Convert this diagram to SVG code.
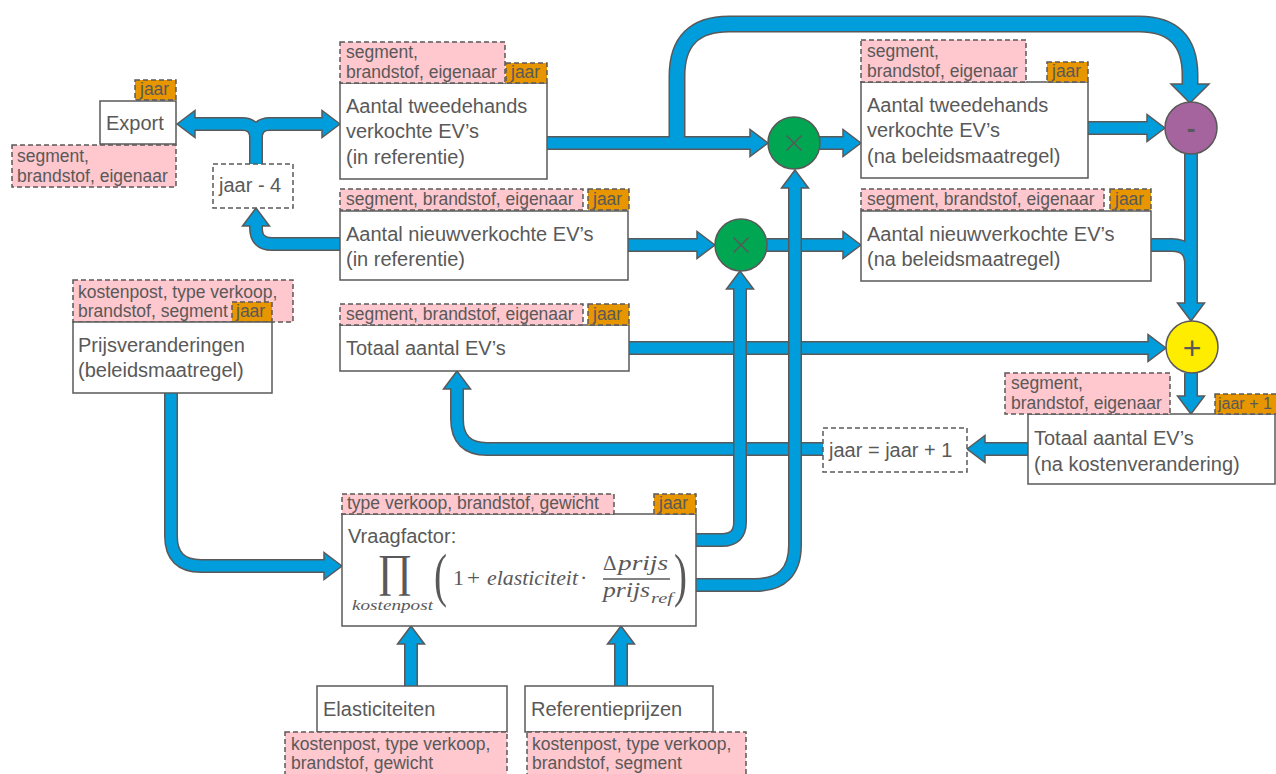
<svg xmlns="http://www.w3.org/2000/svg" xmlns:xlink="http://www.w3.org/1999/xlink" width="1276" height="774" viewBox="0 0 1276 774">
<style>
.box{fill:#fff;stroke:#595959;stroke-width:1.5}
.tag{fill:#FFC7CE;stroke:#595959;stroke-width:1.5;stroke-dasharray:5 3}
.yr{fill:#E89600;stroke:#595959;stroke-width:1.5;stroke-dasharray:5 3}
.dsh{fill:#fff;stroke:#595959;stroke-width:1.5;stroke-dasharray:5 3}
.t{font-family:"Liberation Sans",Arial,sans-serif;font-size:20px;fill:#595959}
.s{font-size:17.5px}
.m{font-family:"Liberation Serif","DejaVu Serif",serif;fill:#595959}
.i{font-style:italic}
.o{fill:none;stroke:#595959;stroke-width:14}
.f{fill:none;stroke:#009DDC;stroke-width:11}
.ow{fill:none;stroke:#595959;stroke-width:17}
.fw{fill:none;stroke:#009DDC;stroke-width:14}
.h{fill:#009DDC;stroke:#595959;stroke-width:1.5}
.x{stroke:#595959;stroke-width:1.5}
</style>
<defs>
<path id="p1" d="M192,124 H242 Q256,124 256,138 V165 M256,138 Q256,124 270,124 H325"/>
<path id="p2" d="M340,244 H272 Q256,244 256,228 V223"/>
<path id="p3a" d="M677,143 V76 Q677,24 729,24 H1139 Q1190,24 1190,75 V88"/>
<path id="p3b" d="M547,143 H753"/>
<path id="p4" d="M819,143 H846"/>
<path id="p5" d="M1088,128 H1149"/>
<path id="p6" d="M1191,154 V306 M1151,245 H1172 Q1191,245 1191,264"/>
<path id="p7" d="M1191,373 V399"/>
<path id="p8" d="M1028,449 H982"/>
<path id="p9" d="M823,449 H487 Q457,449 457,419 V386"/>
<path id="p10" d="M628,245 H700"/>
<path id="p11" d="M767,245 H846"/>
<path id="p12" d="M629,348 H1150"/>
<path id="p13" d="M171,393 V536 Q171,566 201,566 H327"/>
<path id="p14" d="M696,540 H722 Q740,540 740,522 V286"/>
<path id="p15" d="M696,585 H755 Q795,585 795,545 V185"/>
<path id="p16" d="M411,686 V641"/>
<path id="p17" d="M621,686 V641"/>
</defs>

<g id="connectors">
<use xlink:href="#p1" class="o"/><polygon class="h" points="177,124 195,110.5 195,137.5"/><polygon class="h" points="340,124 322,110.5 322,137.5"/><use xlink:href="#p1" class="f"/>
<use xlink:href="#p2" class="o"/><polygon class="h" points="256,208 242.5,226 269.5,226"/><use xlink:href="#p2" class="f"/>
<use xlink:href="#p3a" class="ow"/><use xlink:href="#p3b" class="o"/><polygon class="h" points="1190,103 1171,84 1209,84"/><polygon class="h" points="768,143 750,129.5 750,156.5"/><use xlink:href="#p3a" class="fw"/><use xlink:href="#p3b" class="f"/>
<use xlink:href="#p4" class="o"/><polygon class="h" points="861,143 843,129.5 843,156.5"/><use xlink:href="#p4" class="f"/>
<use xlink:href="#p5" class="o"/><polygon class="h" points="1165,128 1147,114.5 1147,141.5"/><use xlink:href="#p5" class="f"/>
<use xlink:href="#p6" class="o"/><polygon class="h" points="1191,321 1177.5,303 1204.5,303"/><use xlink:href="#p6" class="f"/>
<use xlink:href="#p7" class="o"/><polygon class="h" points="1191,414 1177.5,396 1204.5,396"/><use xlink:href="#p7" class="f"/>
<use xlink:href="#p8" class="o"/><polygon class="h" points="967,449 985,435.5 985,462.5"/><use xlink:href="#p8" class="f"/>
<use xlink:href="#p9" class="o"/><polygon class="h" points="457,371 443.5,389 470.5,389"/><use xlink:href="#p9" class="f"/>
<use xlink:href="#p10" class="o"/><polygon class="h" points="715,245 697,231.5 697,258.5"/><use xlink:href="#p10" class="f"/>
<use xlink:href="#p11" class="o"/><polygon class="h" points="861,245 843,231.5 843,258.5"/><use xlink:href="#p11" class="f"/>
<use xlink:href="#p12" class="o"/><polygon class="h" points="1166,348 1148,334.5 1148,361.5"/><use xlink:href="#p12" class="f"/>
<use xlink:href="#p13" class="o"/><polygon class="h" points="342,566 324,552.5 324,579.5"/><use xlink:href="#p13" class="f"/>
<use xlink:href="#p14" class="o"/><polygon class="h" points="740,271 726.5,289 753.5,289"/><use xlink:href="#p14" class="f"/>
<use xlink:href="#p15" class="o"/><polygon class="h" points="795,170 781.5,188 808.5,188"/><use xlink:href="#p15" class="f"/>
<use xlink:href="#p16" class="o"/><polygon class="h" points="411,626 397.5,644 424.5,644"/><use xlink:href="#p16" class="f"/>
<use xlink:href="#p17" class="o"/><polygon class="h" points="621,626 607.5,644 634.5,644"/><use xlink:href="#p17" class="f"/>
</g>

<g id="export">
<rect class="box" x="100" y="101" width="76" height="43"/>
<text class="t" x="106" y="130">Export</text>
<rect class="yr" x="135" y="80" width="41" height="20"/>
<text class="t s" x="140" y="95">jaar</text>
<rect class="tag" x="12" y="145" width="164" height="42"/>
<text class="t s" x="17" y="162">segment,</text>
<text class="t s" x="17" y="182">brandstof, eigenaar</text>
</g>

<g id="jaar-min-4">
<rect class="dsh" x="213" y="164" width="80" height="44"/>
<text class="t" x="219" y="192">jaar - 4</text>
</g>

<g id="tweedehands-ref">
<rect class="box" x="340" y="83" width="207" height="96"/>
<text class="t" x="346" y="113">Aantal tweedehands</text>
<text class="t" x="346" y="138">verkochte EV’s</text>
<text class="t" x="346" y="164">(in referentie)</text>
<rect class="tag" x="340" y="42" width="165" height="41"/>
<text class="t s" x="346" y="58">segment,</text>
<text class="t s" x="346" y="78">brandstof, eigenaar</text>
<rect class="yr" x="506" y="63" width="41" height="20"/>
<text class="t s" x="511" y="78">jaar</text>
</g>

<g id="nieuw-ref">
<rect class="box" x="340" y="211" width="288" height="69"/>
<text class="t" x="346" y="241">Aantal nieuwverkochte EV’s</text>
<text class="t" x="346" y="266">(in referentie)</text>
<rect class="tag" x="340" y="189" width="243" height="21"/>
<text class="t s" x="346" y="205">segment, brandstof, eigenaar</text>
<rect class="yr" x="588" y="189" width="41" height="21"/>
<text class="t s" x="593" y="205">jaar</text>
</g>

<g id="totaal-ref">
<rect class="box" x="340" y="325" width="289" height="46"/>
<text class="t" x="346" y="355">Totaal aantal EV’s</text>
<rect class="tag" x="340" y="304" width="243" height="21"/>
<text class="t s" x="346" y="320">segment, brandstof, eigenaar</text>
<rect class="yr" x="588" y="304" width="41" height="21"/>
<text class="t s" x="593" y="320">jaar</text>
</g>

<g id="prijsveranderingen">
<rect class="tag" x="73" y="280" width="220" height="42"/>
<text class="t s" x="78" y="298">kostenpost, type verkoop,</text>
<text class="t s" x="78" y="317">brandstof, segment</text>
<rect class="yr" x="232" y="302" width="40" height="20"/>
<text class="t s" x="236" y="317">jaar</text>
<rect class="box" x="73" y="322" width="199" height="71"/>
<text class="t" x="78" y="352">Prijsveranderingen</text>
<text class="t" x="78" y="377">(beleidsmaatregel)</text>
</g>

<g id="vraagfactor">
<rect class="box" x="342" y="514" width="354" height="112"/>
<rect class="tag" x="342" y="494" width="272" height="20"/>
<text class="t s" x="347" y="509">type verkoop, brandstof, gewicht</text>
<rect class="yr" x="654" y="494" width="42" height="20"/>
<text class="t s" x="659" y="509">jaar</text>
<text class="t" x="348" y="543">Vraagfactor:</text>
<text class="m" x="377" y="586" font-size="46" textLength="35" lengthAdjust="spacingAndGlyphs">∏</text>
<text class="m i" x="352" y="610" font-size="14" textLength="81" lengthAdjust="spacingAndGlyphs">kostenpost</text>
<text class="m" x="434" y="595" font-size="60" textLength="13" lengthAdjust="spacingAndGlyphs">(</text>
<text class="m" x="453" y="585" font-size="22">1</text>
<text class="m" x="467" y="585" font-size="22" textLength="13" lengthAdjust="spacingAndGlyphs">+</text>
<text class="m i" x="487" y="585" font-size="22" textLength="91" lengthAdjust="spacingAndGlyphs">elasticiteit</text>
<text class="m" x="580" y="585" font-size="22">·</text>
<text class="m" x="603" y="570" font-size="21">Δ</text>
<text class="m i" x="618" y="570" font-size="22" textLength="50" lengthAdjust="spacingAndGlyphs">prijs</text>
<line x1="603" y1="579" x2="670" y2="579" stroke="#595959" stroke-width="1.3"/>
<text class="m i" x="603" y="597" font-size="22" textLength="47" lengthAdjust="spacingAndGlyphs">prijs</text>
<text class="m i" x="651" y="603" font-size="15" textLength="22" lengthAdjust="spacingAndGlyphs">ref</text>
<text class="m" x="674" y="595" font-size="60" textLength="13" lengthAdjust="spacingAndGlyphs">)</text>
</g>

<g id="elasticiteiten">
<rect class="box" x="317" y="686" width="190" height="46"/>
<text class="t" x="323" y="716">Elasticiteiten</text>
<rect class="tag" x="285" y="732" width="222" height="48"/>
<text class="t s" x="291" y="750">kostenpost, type verkoop,</text>
<text class="t s" x="291" y="769">brandstof, gewicht</text>
</g>

<g id="referentieprijzen">
<rect class="box" x="525" y="686" width="188" height="46"/>
<text class="t" x="531" y="716">Referentieprijzen</text>
<rect class="tag" x="527" y="732" width="219" height="48"/>
<text class="t s" x="532" y="750">kostenpost, type verkoop,</text>
<text class="t s" x="532" y="769">brandstof, segment</text>
</g>

<g id="mult-top">
<ellipse cx="794" cy="143" rx="26" ry="26" fill="#00A651" stroke="#595959" stroke-width="1.5"/>
<line class="x" x1="786.5" y1="135.5" x2="801.5" y2="150.5"/><line class="x" x1="801.5" y1="135.5" x2="786.5" y2="150.5"/>
</g>

<g id="mult-mid">
<ellipse cx="741" cy="245" rx="26" ry="26" fill="#00A651" stroke="#595959" stroke-width="1.5"/>
<line class="x" x1="733.5" y1="237.5" x2="748.5" y2="252.5"/><line class="x" x1="748.5" y1="237.5" x2="733.5" y2="252.5"/>
</g>

<g id="tweedehands-na">
<rect class="box" x="861" y="82" width="227" height="96"/>
<text class="t" x="867" y="112">Aantal tweedehands</text>
<text class="t" x="867" y="137">verkochte EV’s</text>
<text class="t" x="867" y="163">(na beleidsmaatregel)</text>
<rect class="tag" x="861" y="40" width="165" height="42"/>
<text class="t s" x="867" y="57">segment,</text>
<text class="t s" x="867" y="77">brandstof, eigenaar</text>
<rect class="yr" x="1047" y="62" width="41" height="20"/>
<text class="t s" x="1052" y="77">jaar</text>
</g>

<g id="nieuw-na">
<rect class="box" x="861" y="211" width="290" height="70"/>
<text class="t" x="867" y="241">Aantal nieuwverkochte EV’s</text>
<text class="t" x="867" y="266">(na beleidsmaatregel)</text>
<rect class="tag" x="861" y="189" width="243" height="21"/>
<text class="t s" x="867" y="205">segment, brandstof, eigenaar</text>
<rect class="yr" x="1110" y="189" width="41" height="21"/>
<text class="t s" x="1115" y="205">jaar</text>
</g>

<g id="minus">
<ellipse cx="1191" cy="128" rx="26" ry="26" fill="#A6649E" stroke="#595959" stroke-width="1.5"/>
<text x="1191" y="137" text-anchor="middle" font-family="Liberation Sans, Arial, sans-serif" font-size="26" font-weight="bold" fill="#595959">-</text>
</g>

<g id="plus">
<ellipse cx="1192" cy="347" rx="26" ry="26" fill="#FFED00" stroke="#595959" stroke-width="1.5"/>
<text x="1192" y="359" text-anchor="middle" font-family="Liberation Sans, Arial, sans-serif" font-size="32" fill="#595959">+</text>
</g>

<g id="totaal-na">
<rect class="box" x="1028" y="414" width="247" height="70"/>
<text class="t" x="1034" y="445">Totaal aantal EV’s</text>
<text class="t" x="1034" y="471">(na kostenverandering)</text>
<rect class="tag" x="1005" y="373" width="165" height="41"/>
<text class="t s" x="1011" y="389">segment,</text>
<text class="t s" x="1011" y="409">brandstof, eigenaar</text>
<rect class="yr" x="1215" y="394" width="62" height="20"/>
<text class="t" x="1218" y="409" style="font-size:16px">jaar + 1</text>
</g>

<g id="jaar-plus-1">
<rect class="dsh" x="823" y="428" width="144" height="44"/>
<text class="t" x="829" y="457">jaar = jaar + 1</text>
</g>
</svg>
